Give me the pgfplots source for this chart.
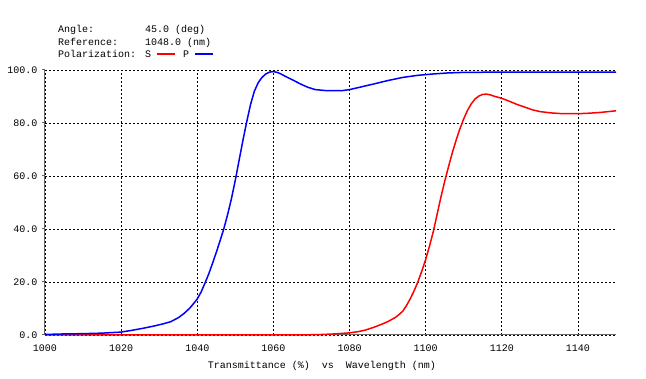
\documentclass[border=0pt]{standalone}
\usepackage{pgfplots}
\pgfplotsset{compat=1.18}
\usepackage{fontspec}
\setmainfont{Liberation Mono}
\begin{document}
\begin{tikzpicture}[x=1pt,y=1pt]
\useasboundingbox (0,0) rectangle (646,379);
\begin{axis}[
  at={(45pt,44pt)}, anchor=south west,
  scale only axis, width=571pt, height=265pt,
  xmin=1000, xmax=1150, ymin=0, ymax=100,
  axis x line=bottom, axis y line=left,
  axis line style={gray!80!black, -, line width=1pt},
  xtick={1000,1020,...,1140}, ytick={0,20,...,100},
  xmajorgrids, ymajorgrids,
  major grid style={black, line width=0.8pt, dash pattern=on 2pt off 2pt},
  x tick style={draw=none},
  y tick style={gray!80!black, line width=1pt},
  tick align=outside, major tick length=3pt,
  font=\fontsize{10}{12}\selectfont,
  /pgf/number format/assume math mode=true,
  xticklabel style={anchor=base, yshift=-14pt, /pgf/number format/1000 sep={}},
  yticklabel style={anchor=east, xshift=-1pt, /pgf/number format/.cd, fixed, fixed zerofill, precision=1},
  clip=false,
]
\addplot[red, line width=1.5pt, line join=round] coordinates {
(1000,0) (1060,0) (1068,0.05) (1072,0.15) (1076,0.4) (1080,0.8) (1082,1.2) (1084,1.8)
(1086,2.7) (1088,3.8) (1090,5.0) (1092,6.6) (1093,7.7) (1094,9.0) (1095,11.2) (1096,13.8)
(1097,16.8) (1098,20.2) (1099,24.2) (1100,28.5) (1101,33.5) (1102,39) (1103,45.5)
(1104,52) (1105,58) (1106,63.5) (1107,68.8) (1108,73.5) (1109,77.8) (1110,81.6)
(1111,84.8) (1112,87.3) (1113,89.1) (1114,90.2) (1115,90.8)
(1116,90.9) (1117,90.6) (1118,90.1) (1120,89.3) (1122,88.2) (1124,87) (1126,86) (1128,85)
(1130,84.3) (1133,83.8) (1136,83.5) (1140,83.5) (1143,83.7) (1146,84) (1150,84.6)
};
\addplot[blue, line width=1.5pt, line join=round] coordinates {
(1000,0.2) (1005,0.4) (1010,0.5) (1015,0.7) (1020,1.1) (1023,1.8) (1026,2.6) (1029,3.5)
(1031,4.2) (1033,5.0) (1035,6.5) (1036.5,8.1) (1038,10.1) (1039,11.8) (1040,13.6)
(1041,16.2) (1042,19.5) (1043,23) (1044,27) (1045,31.2) (1046,35.6) (1047,40.2)
(1048,45.6) (1049,51.6) (1050,58.5) (1051,66) (1052,73.5) (1053,80.5) (1054,87) (1055,92)
(1056,95.2) (1057,97.2) (1058,98.5) (1059,99.2) (1060,99.4) (1061,99.1) (1062,98.5)
(1063,97.7) (1065,96.3) (1067,94.8) (1069,93.5) (1071,92.6) (1074,92.2) (1078,92.2)
(1080,92.6) (1083,93.6) (1086,94.6) (1090,96) (1094,97.2) (1098,98) (1102,98.5)
(1106,98.9) (1110,99.1) (1120,99.2) (1150,99.2)
};
\end{axis}
\begin{scope}[every node/.style={inner sep=0pt, font=\fontsize{10}{12}\selectfont}]
\node[anchor=base west] at (58,346) {Angle:};
\node[anchor=base west] at (145,346) {45.0 (deg)};
\node[anchor=base west] at (58,333.5) {Reference:};
\node[anchor=base west] at (145,333.5) {1048.0 (nm)};
\node[anchor=base west] at (58,321) {Polarization:};
\node[anchor=base west] at (145,321) {S};
\draw[red, line width=1.5pt] (157,325) -- (175,325);
\node[anchor=base west] at (183,321) {P};
\draw[blue, line width=1.5pt] (195,325) -- (213,325);
\node[anchor=base] at (322,10) {Transmittance (\%)\ \ vs\ \ Wavelength (nm)};
\end{scope}
\end{tikzpicture}
\end{document}
